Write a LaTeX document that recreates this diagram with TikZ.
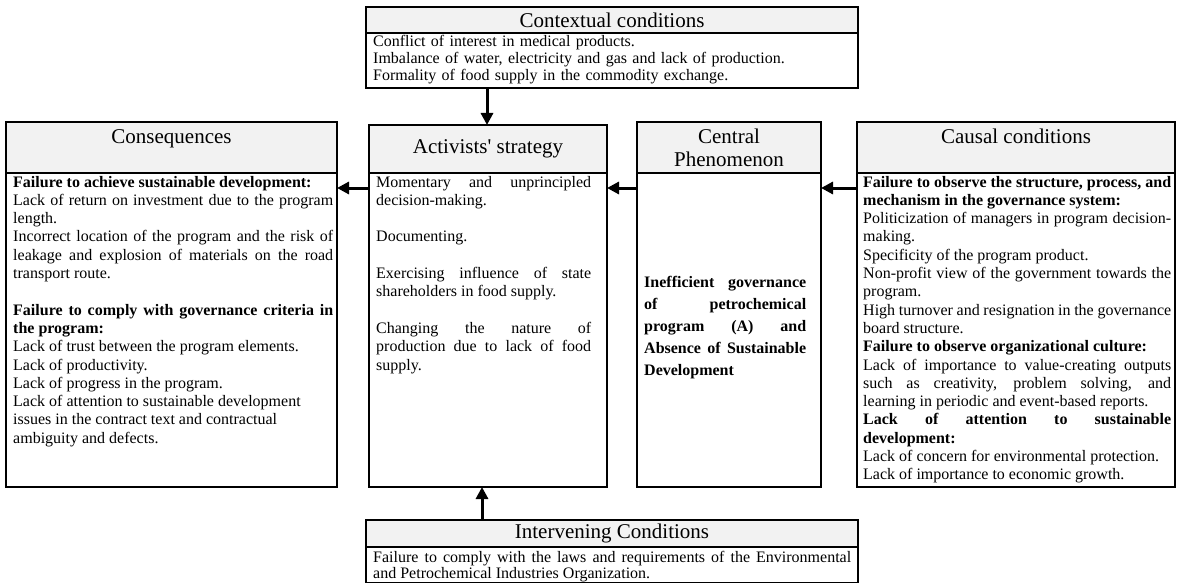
\documentclass[tikz,border=0pt]{standalone}
\usepackage{fontspec}
\setmainfont{Liberation Serif}
\newfontfamily\rawserif{Liberation Serif}
\usetikzlibrary{arrows.meta}
\definecolor{headgray}{HTML}{F2F2F2}
\hyphenpenalty=10000
\emergencystretch=20pt
\begin{document}
\begin{tikzpicture}[x=1pt,y=-1pt,
  frame/.style={draw, line width=1.8pt, anchor=north west, inner sep=0pt, outer sep=0pt},
  head/.style={frame, fill=headgray, align=center, font=\fontsize{21}{23}\selectfont},
  bodyframe/.style={frame, fill=white},
  txt/.style={anchor=north west, inner sep=0pt, align=justify, font=\fontsize{16}{18.3}\selectfont},
  arr/.style={line width=3pt, -{Triangle[length=12pt,width=12pt]}},
]
\useasboundingbox (0,0) rectangle (1177,583);

% Contextual conditions
\node[head, minimum width=492pt, minimum height=26pt] (ctxh) at (366,7) {Contextual conditions};
\node[bodyframe, minimum width=492pt, minimum height=55pt] (ctxb) at (366,33) {};
\node[txt, text width=480pt, align=left, font=\fontsize{16}{16.6}\selectfont] (ctxt) at (373,35)
 {\strut Conflict of interest in medical products.\\
  Imbalance of water, electricity and gas and lack of production.\\
  Formality of food supply in the commodity exchange.};

% Consequences
\node[head, minimum width=331pt, minimum height=51pt, text height=21pt, text depth=30pt] (conh) at (6,122) {Consequences};
\node[bodyframe, minimum width=331pt, minimum height=314pt] (conb) at (6,173) {};
\node[txt, text width=320pt] (cont) at (13,174)
 {\strut\textbf{Failure to achieve sustainable development:}\\
  Lack of return on investment due to the program\linebreak
  length.\\
  Incorrect location of the program and the risk of\linebreak
  leakage and explosion of materials on the road\linebreak
  transport route.\\[18.3pt]
  \textbf{Failure to comply with governance criteria in}\linebreak
  \textbf{the program:}\\
  Lack of trust between the program elements.\\
  Lack of productivity.\\
  Lack of progress in the program.\\
  Lack of attention to sustainable development\\
  issues in the contract text and contractual\\
  ambiguity and defects.};

% Activists' strategy
\node[head, minimum width=238pt, minimum height=48pt] (acth) at (369,125) {Activists{\rawserif '} strategy};
\node[bodyframe, minimum width=238pt, minimum height=314pt] (actb) at (369,173) {};
\node[txt, text width=215pt] (actt) at (376,174)
 {\strut Momentary and unprincipled\linebreak
  decision-making.\\[18.3pt]
  Documenting.\\[18.3pt]
  Exercising influence of state\linebreak
  shareholders in food supply.\\[18.3pt]
  Changing the nature of\linebreak
  production due to lack of food\linebreak
  supply.};

% Central Phenomenon
\node[head, minimum width=184pt, minimum height=51pt] (cenh) at (637,122) {Central\\Phenomenon};
\node[bodyframe, minimum width=184pt, minimum height=314pt] (cenb) at (637,173) {};
\node[txt, text width=162pt, font=\fontsize{16}{22}\selectfont\bfseries] (cent) at (644,272)
 {\strut Inefficient governance\linebreak
  of petrochemical\linebreak
  program (A) and\linebreak
  Absence of Sustainable\linebreak
  Development};

% Causal conditions
\node[head, minimum width=318pt, minimum height=51pt, text height=21pt, text depth=30pt] (cauh) at (857,122) {Causal conditions};
\node[bodyframe, minimum width=318pt, minimum height=314pt] (caub) at (857,173) {};
\node[txt, text width=308pt] (caut) at (863,174)
 {\strut\textbf{Failure to observe the structure, process, and}\linebreak
  \textbf{mechanism in the governance system:}\\
  \ Politicization of managers in program decision-\linebreak
  making.\\
  Specificity of the program product.\\
  Non-profit view of the government towards the\linebreak
  program.\\
  High turnover and resignation in the governance\linebreak
  board structure.\\
  \textbf{Failure to observe organizational culture:}\\
  Lack of importance to value-creating outputs\linebreak
  such as creativity, problem solving, and\linebreak
  learning in periodic and event-based reports.\\
  \textbf{Lack of attention to sustainable}\linebreak
  \textbf{development:}\\
  Lack of concern for environmental protection.\\
  Lack of importance to economic growth.};

% Intervening Conditions
\node[head, minimum width=492pt, minimum height=27pt] (inth) at (366,520) {Intervening Conditions};
\node[bodyframe, minimum width=492pt, minimum height=36pt] (intb) at (366,547) {};
\node[txt, text width=478pt, font=\fontsize{16}{14.5}\selectfont] (intt) at (373,551)
 {\strut Failure to comply with the laws and requirements of the Environmental\linebreak
  and Petrochemical Industries Organization.};

% connectors
\coordinate (downx) at (487,0);
\coordinate (upx) at (482,0);
\coordinate (rowy) at (0,188);
\draw[arr] (ctxb.south -| downx) -- (acth.north -| downx);
\draw[arr] (inth.north -| upx) -- (actb.south -| upx);
\draw[arr] (actb.west |- rowy) -- (conb.east |- rowy);
\draw[arr] (cenb.west |- rowy) -- (actb.east |- rowy);
\draw[arr] (caub.west |- rowy) -- (cenb.east |- rowy);
\end{tikzpicture}
\end{document}
